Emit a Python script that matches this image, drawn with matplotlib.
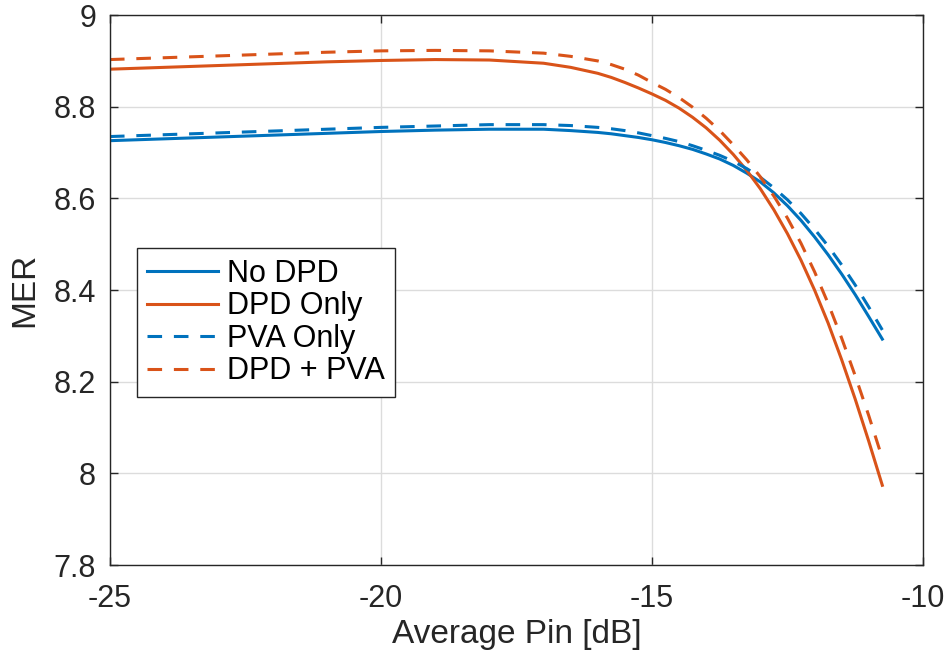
import matplotlib
matplotlib.use("Agg")
import matplotlib.pyplot as plt

pin_db = [-25, -24, -23, -22, -21, -20, -19, -18, -17, -16.5, -16,
          -15.75, -15.5, -15.25, -15, -14.75, -14.5, -14.25, -14,
          -13.75, -13.5, -13.25, -13, -12.75, -12.5, -12.25, -12,
          -11.75, -11.5, -11.25, -11, -10.75]

mer_no_dpd = [8.726, 8.730, 8.734, 8.738, 8.742, 8.746, 8.749, 8.751, 8.751,
              8.748, 8.744,
              8.741, 8.737, 8.733, 8.728, 8.722, 8.715, 8.707, 8.697,
              8.686, 8.672, 8.655, 8.636, 8.612, 8.584, 8.552, 8.516,
              8.477, 8.435, 8.390, 8.342, 8.293]
mer_dpd_only = [8.882, 8.886, 8.890, 8.894, 8.898, 8.901, 8.903, 8.902, 8.895,
                8.886, 8.873,
                8.864, 8.853, 8.841, 8.828, 8.814, 8.797, 8.777, 8.754,
                8.727, 8.696, 8.661, 8.621, 8.575, 8.523, 8.465, 8.400,
                8.328, 8.248, 8.162, 8.070, 7.974]
mer_pva_only = [8.735, 8.739, 8.743, 8.747, 8.751, 8.755, 8.758, 8.761, 8.761,
                8.759, 8.755,
                8.752, 8.748, 8.743, 8.737, 8.731, 8.724, 8.715, 8.705,
                8.694, 8.681, 8.665, 8.646, 8.623, 8.597, 8.567, 8.533,
                8.496, 8.455, 8.411, 8.363, 8.313]
mer_dpd_pva = [8.903, 8.907, 8.911, 8.915, 8.919, 8.922, 8.923, 8.922, 8.917,
               8.910, 8.900,
               8.892, 8.882, 8.869, 8.853, 8.838, 8.820, 8.799, 8.775,
               8.748, 8.717, 8.684, 8.647, 8.605, 8.557, 8.502, 8.440,
               8.371, 8.295, 8.213, 8.126, 8.033]

x_ticks = [-25, -20, -15, -10]
x_tick_labels = ["-25", "-20", "-15", "-10"]
y_ticks = [7.8, 8, 8.2, 8.4, 8.6, 8.8, 9]
y_tick_labels = ["7.8", "8", "8.2", "8.4", "8.6", "8.8", "9"]

blue = "#0072BD"
orange = "#D95319"
dark = "#262626"

plt.rcParams["font.family"] = ["Liberation Sans", "DejaVu Sans"]
plt.rcParams["lines.scale_dashes"] = False

fig = plt.figure(figsize=(9.52, 6.57), dpi=100)
# axes box: 110..923 px across, 15..565 px down
ax = fig.add_axes([0.1155, 0.140, 0.854, 0.837])

lw = 2.2
dash = (0, (10.5, 8.5))
ax.plot(pin_db, mer_no_dpd, color=blue, lw=lw, label="No DPD")
ax.plot(pin_db, mer_dpd_only, color=orange, lw=lw, label="DPD Only")
ax.plot(pin_db, mer_pva_only, color=blue, lw=lw, ls=dash, label="PVA Only")
ax.plot(pin_db, mer_dpd_pva, color=orange, lw=lw, ls=dash, label="DPD + PVA")

ax.set_xlim(-25, -10)
ax.set_ylim(7.8, 9)
ax.set_xticks(x_ticks)
ax.set_xticklabels(x_tick_labels)
ax.set_yticks(y_ticks)
ax.set_yticklabels(y_tick_labels)
ax.tick_params(direction="in", length=6, width=1, top=True, right=True,
               labelsize=22, colors=dark)
ax.tick_params(axis="x", pad=14)
ax.tick_params(axis="y", pad=10)
ax.grid(True, color="#dcdcdc", lw=1)
for s in ax.spines.values():
    s.set_color(dark)
    s.set_linewidth(1)

ax.set_xlabel("Average Pin [dB]", fontsize=24, color=dark, labelpad=3)
ax.set_ylabel("MER", fontsize=24, color=dark, labelpad=10)

leg = ax.legend(loc="upper left", bbox_to_anchor=(0.033, 0.576), fontsize=22,
                frameon=True, fancybox=False, framealpha=1, edgecolor=dark,
                handlelength=2.3, handletextpad=0.3, labelspacing=0.08,
                borderpad=0.35, borderaxespad=0)
leg.get_frame().set_linewidth(1)

fig.savefig("out.png", dpi=100)
